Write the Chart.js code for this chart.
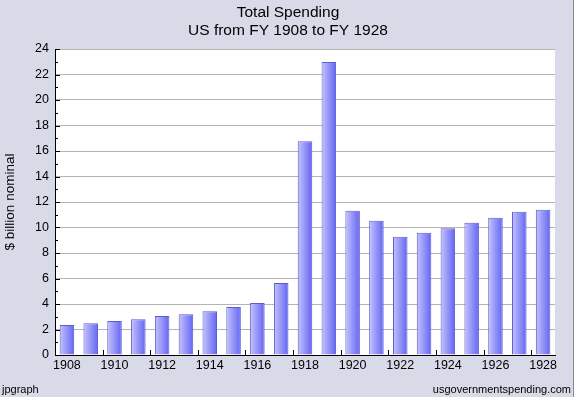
<!DOCTYPE html>
<html>
<head>
<meta charset="utf-8">
<script src="https://cdn.jsdelivr.net/npm/chart.js@4/dist/chart.umd.min.js"></script>
<style>
  html, body { margin: 0; padding: 0; background: #ffffff; }
  #wrap { width: 576px; height: 397px; position: relative; }
</style>
</head>
<body>
<div id="wrap"><canvas id="grafico" width="576" height="397"></canvas></div>
<script>
const anos = ['1908', '1909', '1910', '1911', '1912', '1913', '1914', '1915', '1916', '1917',
    '1918', '1919', '1920', '1921', '1922', '1923', '1924', '1925', '1926', '1927', '1928'];
const gastos = [2.35, 2.50, 2.66, 2.81, 3.05, 3.20, 3.44, 3.76, 4.07, 5.65,
    16.77, 22.99, 11.31, 10.53, 9.27, 9.58, 9.95, 10.37, 10.76, 11.23, 11.39];
const titulo = ['Total Spending', 'US from FY 1908 to FY 1928'];
const tituloEixoY = '$ billion nominal';
const rodapeEsq = 'jpgraph';
const rodapeDir = 'usgovernmentspending.com';

const fonte = 'Arial, "Liberation Sans", sans-serif';
const fundo = '#d8dae8';

// fundo, moldura, titulo e rodape
const molduraPlugin = {
    id: 'moldura',
    beforeDraw(chart) {
        const ctx = chart.ctx;
        const a = chart.chartArea;
        ctx.save();
        ctx.fillStyle = '#ffffff';
        ctx.fillRect(0, 0, chart.width, chart.height);
        ctx.fillStyle = fundo;
        ctx.fillRect(0, 0, 573, chart.height);
        ctx.strokeStyle = '#8a8a96';
        ctx.lineWidth = 1;
        ctx.beginPath();
        ctx.moveTo(573.5, 0);
        ctx.lineTo(573.5, chart.height);
        ctx.stroke();
        ctx.fillStyle = '#ffffff';
        ctx.fillRect(a.left, a.top, a.right - a.left, a.bottom - a.top);
        ctx.restore();
    },
    afterDraw(chart) {
        const ctx = chart.ctx;
        const a = chart.chartArea;
        const x = chart.scales.x;
        const y = chart.scales.y;
        ctx.save();
        ctx.strokeStyle = '#000000';
        ctx.lineWidth = 1;
        ctx.beginPath();
        // marcas do eixo y (para dentro)
        for (let v = 0; v <= 24; v++) {
            const py = Math.round(y.getPixelForValue(v)) + 0.5;
            const len = v % 2 === 0 ? 5 : 3;
            ctx.moveTo(a.left, py);
            ctx.lineTo(a.left + len, py);
        }
        // marcas do eixo x entre categorias
        for (let k = 2; k < anos.length; k += 2) {
            const px = Math.round((x.getPixelForValue(k - 1) + x.getPixelForValue(k)) / 2) + 0.5;
            ctx.moveTo(px, a.bottom);
            ctx.lineTo(px, a.bottom - 5);
        }
        ctx.stroke();

        ctx.fillStyle = '#000000';
        ctx.textAlign = 'center';
        ctx.textBaseline = 'alphabetic';
        ctx.font = '15.5px ' + fonte;
        ctx.fillText(titulo[0], 288, 17);
        ctx.fillText(titulo[1], 288, 35);

        ctx.font = '11px ' + fonte;
        ctx.textAlign = 'left';
        ctx.fillText(rodapeEsq, 2, 393);
        ctx.textAlign = 'right';
        ctx.fillText(rodapeDir, 571, 393);
        ctx.restore();
    }
};

function gradienteBarra(context) {
    const chart = context.chart;
    if (!chart.chartArea || !chart.scales.x) return '#9090ff';
    const sx = chart.scales.x;
    const larg = (sx.width / anos.length) * 0.61;
    const xc = sx.getPixelForValue(context.dataIndex);
    const g = chart.ctx.createLinearGradient(xc - larg / 2, 0, xc + larg / 2, 0);
    g.addColorStop(0, '#c4c4fc');
    g.addColorStop(1, '#6464f4');
    return g;
}

const ctx = document.getElementById('grafico').getContext('2d');
new Chart(ctx, {
    type: 'bar',
    data: {
        labels: anos,
        datasets: [{
            label: 'Total Spending',
            data: gastos,
            backgroundColor: gradienteBarra,
            borderColor: '#5c5cd0',
            borderWidth: 1,
            barPercentage: 0.61,
            categoryPercentage: 1.0
        }]
    },
    options: {
        responsive: false,
        animation: false,
        devicePixelRatio: 1,
        layout: { padding: { top: 49, right: 21, bottom: 0, left: 0 } },
        plugins: {
            legend: { display: false },
            title: { display: false },
            tooltip: { enabled: false }
        },
        scales: {
            x: {
                offset: true,
                grid: { display: false, drawTicks: false },
                border: { display: true, color: '#000000', width: 1 },
                ticks: {
                    autoSkip: false,
                    maxRotation: 0,
                    padding: 3,
                    color: '#000000',
                    font: { family: fonte, size: 12.5 },
                    callback: function (val, i) { return i % 2 === 0 ? anos[i] : ''; }
                },
                afterFit(scale) { scale.height = 42; }
            },
            y: {
                min: 0,
                max: 24,
                grid: { color: '#b4b4b4', drawTicks: false },
                border: { display: true, color: '#000000', width: 1 },
                ticks: {
                    stepSize: 2,
                    padding: 6,
                    color: '#000000',
                    font: { family: fonte, size: 12.5 }
                },
                title: {
                    display: true,
                    text: tituloEixoY,
                    color: '#000000',
                    font: { family: fonte, size: 13.5 },
                    padding: { top: 2, bottom: 0 }
                },
                afterFit(scale) { scale.width = 55; }
            }
        }
    },
    plugins: [molduraPlugin]
});
</script>
</body>
</html>
